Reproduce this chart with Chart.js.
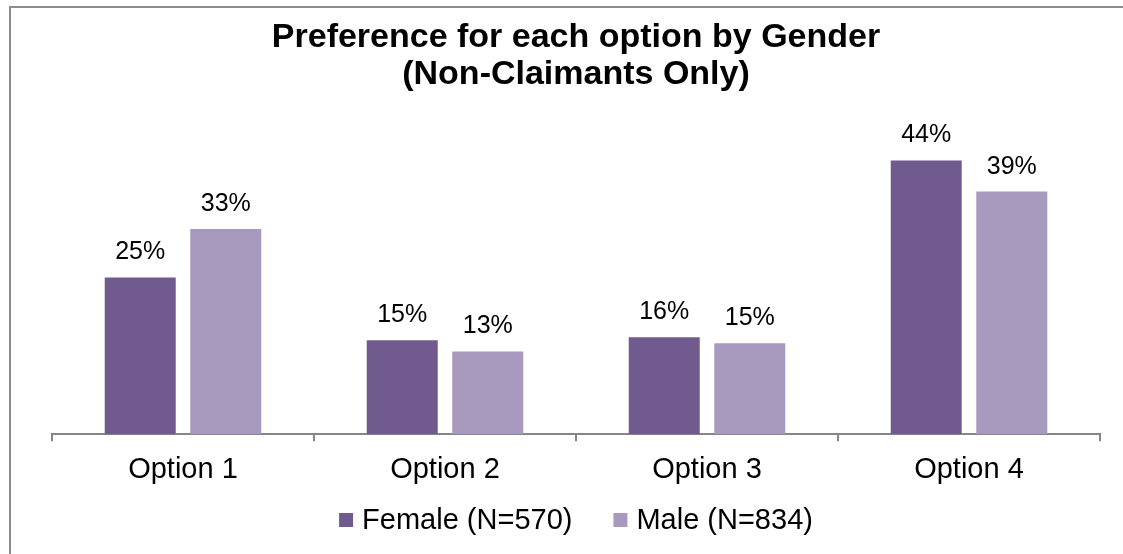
<!DOCTYPE html>
<html>
<head>
<meta charset="utf-8">
<script src="https://cdn.jsdelivr.net/npm/chart.js@4.4.0/dist/chart.umd.min.js"></script>
<style>
  html, body { margin: 0; padding: 0; background: #fff; }
  #wrap { position: relative; width: 1123px; height: 554px; overflow: hidden; }
  #frame { position: absolute; left: 9px; top: 6px; width: 1300px; height: 700px;
           border-top: 2px solid #8c8c8c; border-left: 2px solid #8c8c8c; }
  canvas { position: absolute; left: 0; top: 0; }
</style>
</head>
<body>
<div id="wrap">
  <div id="frame"></div>
  <canvas id="myChart" width="1123" height="554"></canvas>
</div>
<script>
// categories and values (percent)
const options = ['Option 1', 'Option 2', 'Option 3', 'Option 4'];
const female = [25.2, 15.1, 15.6, 44.0];
const male = [33.0, 13.3, 14.6, 39.0];
const seriesNames = ['Female (N=570)', 'Male (N=834)'];
const titleLines = ['Preference for each option by Gender', '(Non-Claimants Only)'];

const fontName = "'Liberation Sans', Arial, sans-serif";

// draws the % value above each bar
const valueLabels = {
  id: 'valueLabels',
  afterDatasetsDraw(chart) {
    let ctx = chart.ctx;
    ctx.save();
    ctx.font = '25px ' + fontName;
    ctx.fillStyle = '#000';
    ctx.textAlign = 'center';
    ctx.textBaseline = 'alphabetic';
    chart.data.datasets.forEach(function(ds, i) {
      let meta = chart.getDatasetMeta(i);
      meta.data.forEach(function(bar, j) {
        ctx.fillText(Math.round(ds.data[j]) + '%', bar.x, bar.y - 18);
      });
    });
    ctx.restore();
  }
};

// legend drawn by hand so the gap between items can be wide
const bottomLegend = {
  id: 'bottomLegend',
  afterDraw(chart) {
    let ctx = chart.ctx;
    let area = chart.chartArea;
    ctx.save();
    ctx.font = '29px ' + fontName;
    ctx.textBaseline = 'middle';
    ctx.textAlign = 'left';
    let box = 14, gap = 9, between = 41;
    let dss = chart.data.datasets;
    let total = 0;
    dss.forEach(function(ds, i) {
      total += box + gap + ctx.measureText(ds.label).width;
      if (i > 0) total += between;
    });
    let x = (area.left + area.right) / 2 - total / 2;
    let y = 520;
    dss.forEach(function(ds) {
      ctx.fillStyle = ds.backgroundColor;
      ctx.fillRect(x, y - box / 2, box, box);
      x += box + gap;
      ctx.fillStyle = '#000';
      ctx.fillText(ds.label, x, y + 1);
      x += ctx.measureText(ds.label).width + between;
    });
    ctx.restore();
  }
};

let ctx = document.getElementById('myChart').getContext('2d');
let chart = new Chart(ctx, {
  type: 'bar',
  data: {
    labels: options,
    datasets: [{
      label: seriesNames[0],
      data: female,
      backgroundColor: '#715a8e'
    }, {
      label: seriesNames[1],
      data: male,
      backgroundColor: '#a899bf'
    }]
  },
  options: {
    responsive: false,
    animation: false,
    categoryPercentage: 0.653,
    barPercentage: 0.83,
    layout: {
      padding: { left: 52, right: 23, top: 0, bottom: 56 }
    },
    plugins: {
      title: {
        display: true,
        text: titleLines,
        color: '#000',
        font: { family: fontName, size: 34, weight: 'bold', lineHeight: 1.09 },
        padding: { top: 19, bottom: 30 }
      },
      legend: { display: false },
      tooltip: { enabled: false }
    },
    scales: {
      x: {
        grid: {
          display: true,
          drawOnChartArea: false,
          tickLength: 7,
          color: '#868686',
          lineWidth: 2,
          offset: true
        },
        border: { color: '#868686', width: 2 },
        ticks: {
          color: '#000',
          padding: 11,
          font: { family: fontName, size: 29 }
        }
      },
      y: {
        display: false,
        min: 0,
        max: 50
      }
    }
  },
  plugins: [valueLabels, bottomLegend]
});
</script>
</body>
</html>
